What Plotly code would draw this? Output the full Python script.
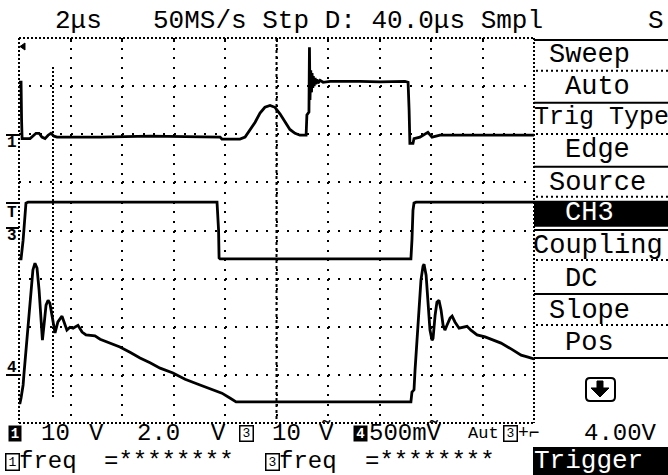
import plotly.graph_objects as go

# ---------------- data (time in µs, amplitude in screen divisions) ----------------
ch1_t = [0, 0.08, 0.10, 0.12, 0.43, 0.54, 0.66, 0.78, 0.89, 1.01, 1.13, 1.24, 1.36, 1.48,
         3.15, 5.09, 7.81, 7.88, 8.58, 8.78, 8.97, 9.17, 9.36, 9.55, 9.75, 9.94, 10.14,
         10.33, 10.52, 10.72, 10.91, 11.15, 11.18, 11.26, 11.28, 11.30, 11.33, 11.36,
         11.38, 11.41, 11.43, 11.46, 11.50, 11.53, 11.57, 11.61, 11.69, 11.81, 12.08,
         13.24, 14.02, 14.99, 15.11, 15.15, 15.18, 15.30, 15.34, 15.57, 15.73, 15.88,
         16.04, 16.19, 16.35, 20.0]
ch1_v = [7.08, 7.08, 6.29, 5.91, 5.91, 5.96, 6.02, 6.02, 5.94, 5.91, 5.98, 6.02, 5.96, 5.94,
         5.94, 5.96, 5.94, 5.90, 5.90, 5.94, 6.08, 6.25, 6.44, 6.56, 6.60, 6.56, 6.42,
         6.25, 6.10, 6.02, 5.98, 5.98, 6.40, 6.46, 7.81, 6.71, 7.33, 6.87,
         7.27, 6.96, 7.21, 7.00, 7.17, 7.04, 7.14, 7.06, 7.12, 7.08, 7.10,
         7.10, 7.09, 7.10, 7.08, 6.50, 5.81, 5.81, 5.91, 5.94, 6.00, 6.04,
         5.94, 5.96, 5.98, 5.98]

ch3_t = [0, 0.08, 0.16, 0.23, 0.27, 0.35, 7.69, 7.75, 7.77, 7.81, 15.22, 15.26, 15.30,
         15.34, 15.42, 20.0]
ch3_v = [3.41, 3.41, 3.80, 4.42, 4.57, 4.59, 4.59, 4.01, 3.43, 3.41, 3.41, 3.80, 4.42,
         4.57, 4.59, 4.59]

ch4_t = [0, 0.04, 0.08, 0.12, 0.16, 0.19, 0.23, 0.31, 0.39, 0.47, 0.54, 0.62, 0.70, 0.78,
         0.85, 0.91, 0.97, 1.05, 1.13, 1.20, 1.28, 1.40, 1.51, 1.67, 1.75, 1.86, 1.98,
         2.10, 2.29, 2.45, 2.60, 2.95, 3.15, 3.53, 3.92, 4.31, 4.70, 5.09, 5.48, 5.98,
         6.45, 7.03, 7.50, 7.88, 8.19, 8.43, 10.91, 15.22, 15.26, 15.34, 15.38, 15.46,
         15.53, 15.61, 15.69, 15.73, 15.81, 15.88, 15.96, 16.04, 16.08, 16.16, 16.23,
         16.31, 16.39, 16.47, 16.54, 16.62, 16.74, 16.82, 16.93, 17.09, 17.20, 17.40,
         17.55, 17.79, 18.10, 18.41, 18.72, 19.11, 19.50, 19.77, 20.0]
ch4_v = [0.42, 0.42, 0.52, 0.64, 0.79, 1.00, 1.27, 1.72, 2.24, 2.76, 3.18, 3.32, 3.22, 2.76,
         2.14, 1.72, 2.03, 2.45, 2.55, 2.49, 2.24, 1.87, 2.10, 2.22, 2.10, 1.93, 1.99,
         1.97, 2.03, 1.89, 1.83, 1.81, 1.74, 1.66, 1.58, 1.47, 1.35, 1.25, 1.14, 1.04,
         0.91, 0.79, 0.69, 0.62, 0.52, 0.44, 0.44, 0.44, 0.64, 0.69, 1.10, 1.72,
         2.45, 2.97, 3.26, 3.30, 3.07, 2.45, 1.93, 1.72, 1.76, 2.24, 2.51,
         2.55, 2.35, 2.03, 1.93, 2.03, 2.18, 2.22, 2.10, 1.97, 1.99, 2.01,
         1.93, 1.83, 1.79, 1.72, 1.66, 1.54, 1.41, 1.37, 1.33]

top_texts = ["2μs", "50MS/s Stp D: 40.0μs Smpl", "S"]
menu_labels = ["Sweep", "Auto", "Trig Type", "Edge", "Source", "CH3",
               "Coupling", "DC", "Slope", "Pos"]
bottom_scale = ["10", "V", "2.0", "V", "10", "Ṽ", "500mṼ", "Aut", "+⌐", "4.00V"]
freq_texts = ["freq", "=********", "freq", "=********"]

# ---------------- geometry helpers ----------------
L, R, T, B = 19, 534, 38, 423
W, H = 668, 475
FONT = "Liberation Mono, DejaVu Sans Mono, monospace"


def P(px, py):
    return (px - L) / (R - L), (B - py) / (B - T)


def pp(px, py):
    x, y = P(px, py)
    return f"{x:.5f},{y:.5f}"


def txt(s, px, py, size=27, color="black", anchor="left", bg=None, bw=0,
        w=None, h=None, family=FONT, weight="normal"):
    x, y = P(px, py)
    d = dict(text=s, x=x, y=y, xref="paper", yref="paper", xanchor=anchor,
             yanchor="middle", showarrow=False, borderpad=0,
             font=dict(family=family, size=size, color=color, weight=weight))
    if bg:
        d["bgcolor"] = bg
    if bw:
        d["bordercolor"] = "black"
        d["borderwidth"] = bw
    if w:
        d["width"] = w
    if h:
        d["height"] = h
    return d


def hline(px0, px1, py, width=2, dash="solid"):
    x0, y = P(px0, py)
    x1, _ = P(px1, py)
    return dict(type="line", xref="paper", yref="paper", x0=x0, x1=x1, y0=y, y1=y,
                line=dict(color="black", width=width, dash=dash))


def vline(px, py0, py1, width=2, dash="solid"):
    x, y0 = P(px, py0)
    _, y1 = P(px, py1)
    return dict(type="line", xref="paper", yref="paper", x0=x, x1=x, y0=y0, y1=y1,
                line=dict(color="black", width=width, dash=dash))


def rect(px0, py0, px1, py1):
    x0, y0 = P(px0, py0)
    x1, y1 = P(px1, py1)
    return dict(type="rect", xref="paper", yref="paper", x0=x0, x1=x1, y0=y0, y1=y1,
                line=dict(width=0), fillcolor="black", layer="below")


fig = go.Figure()
for t, v in [(ch1_t, ch1_v), (ch3_t, ch3_v), (ch4_t, ch4_v)]:
    fig.add_trace(go.Scatter(x=t, y=v, mode="lines", line=dict(color="black", width=2.8),
                             hoverinfo="skip", showlegend=False))

shapes = []
# plot border (dense dotted)
shapes += [hline(L, R, T, dash="2px,2px"), hline(L, R, B, dash="2px,2px"),
           vline(L, T, B, dash="2px,2px"), vline(R, T, B, dash="2px,2px")]
# cursor line and centre line
shapes.append(vline(53, 67, 397, dash="2px,2px"))
shapes.append(vline(276.5, T, B, width=2, dash="3px,3px"))
# menu separators
for y in [40, 102.7, 166.7, 230, 294, 358]:
    shapes.append(hline(R, W, y, width=2))
for y in [70.7, 134, 196.7, 260, 325]:
    shapes.append(hline(R + 2, W, y, width=2, dash="2px,3px"))
# highlighted boxes
shapes.append(rect(R, 200.7, W, 226.7))
shapes.append(rect(533, 447, W, H))
# arrow icon
box = (f"M {pp(590,378)} L {pp(611,378)} Q {pp(615,378)} {pp(615,382)} L {pp(615,397)} "
       f"Q {pp(615,401)} {pp(611,401)} L {pp(590,401)} Q {pp(586,401)} {pp(586,397)} "
       f"L {pp(586,382)} Q {pp(586,378)} {pp(590,378)} Z")
shapes.append(dict(type="path", xref="paper", yref="paper", path=box,
                   line=dict(color="black", width=2)))
arrow = (f"M {pp(597,381)} L {pp(603,381)} L {pp(603,388)} L {pp(609,388)} "
         f"L {pp(600,397)} L {pp(591,388)} L {pp(597,388)} Z")
shapes.append(dict(type="path", xref="paper", yref="paper", path=arrow,
                   line=dict(color="black", width=1), fillcolor="black"))
# trigger position marker
tri = f"M {pp(25,43)} L {pp(25,50)} L {pp(20,46.5)} Z"
shapes.append(dict(type="path", xref="paper", yref="paper", path=tri,
                   line=dict(color="black", width=1), fillcolor="black"))
# channel marker bars
for y in [135, 203, 228]:
    shapes.append(hline(6, 19, y, width=2))
shapes.append(hline(6, 20, 375, width=2))

ann = []
# top status line
ann.append(txt(top_texts[0], 54, 21, size=26))
ann.append(txt(top_texts[1], 152, 21, size=26))
ann.append(txt(top_texts[2], 647, 21, size=26))
# menu
menu_pos = [(548, 55, 27), (564, 87, 27), (533, 118, 25), (564, 150, 27), (548, 183, 27),
            (564, 213, 27), (532, 246, 27), (564, 279, 27), (548, 311, 27), (564, 343, 27)]
for lab, (x, y, s) in zip(menu_labels, menu_pos):
    ann.append(txt(lab, x, y, size=s, color="white" if lab == "CH3" else "black"))
# channel markers
for s, y in [("1", 143), ("T", 213), ("3", 236), ("4", 368)]:
    ann.append(txt(s, 12, y, size=16, anchor="center", weight="bold"))
# bottom scale row
ann.append(txt("1", 15, 434, size=14, color="white", anchor="center", bg="black",
               w=12, h=15, weight="bold"))
ann.append(txt("3", 246.5, 434, size=13, anchor="center", bg="white", bw=1.5, w=12, h=14))
ann.append(txt("4", 360.5, 434, size=14, color="white", anchor="center", bg="black",
               w=13, h=15, weight="bold"))
ann.append(txt("3", 510, 434, size=13, anchor="center", bg="white", bw=1.5, w=12, h=14))
row1 = [(40, 24), (88, 24), (136, 24), (210, 24), (271, 24), (318, 24), (368, 24),
        (467, 17), (517, 18), (583, 24)]
for s, (x, sz) in zip(bottom_scale, row1):
    ann.append(txt(s, x, 433, size=sz))
# frequency row
ann.append(txt("1", 12.5, 462, size=13, anchor="center", bg="white", bw=1.5, w=12, h=15))
ann.append(txt("3", 272.5, 462, size=13, anchor="center", bg="white", bw=1.5, w=12, h=15))
for s, x in zip(freq_texts, [18, 103, 278, 364]):
    ann.append(txt(s, x, 461.5, size=24))
ann.append(txt("Trigger", 533, 461, size=26, color="white"))

fig.update_layout(
    width=W, height=H, autosize=False,
    margin=dict(l=L, r=W - R, t=T, b=H - B, pad=0),
    paper_bgcolor="white", plot_bgcolor="white",
    shapes=shapes, annotations=ann,
    xaxis=dict(range=[0, 20], dtick=2, tick0=0, showgrid=True, gridcolor="black",
               gridwidth=2, griddash="2px,7.63px", zeroline=False, showline=False,
               showticklabels=False, ticks="inside", ticklen=4, tickwidth=2,
               tickcolor="black", side="top", fixedrange=True),
    yaxis=dict(range=[0, 8], dtick=1, tick0=0, showgrid=True, gridcolor="black",
               gridwidth=2, griddash="2px,8.3px", zeroline=False, showline=False,
               showticklabels=False, ticks="", fixedrange=True),
)

fig.write_html("out.html", config={"displayModeBar": False},
               post_script="document.body.style.margin='0';")
